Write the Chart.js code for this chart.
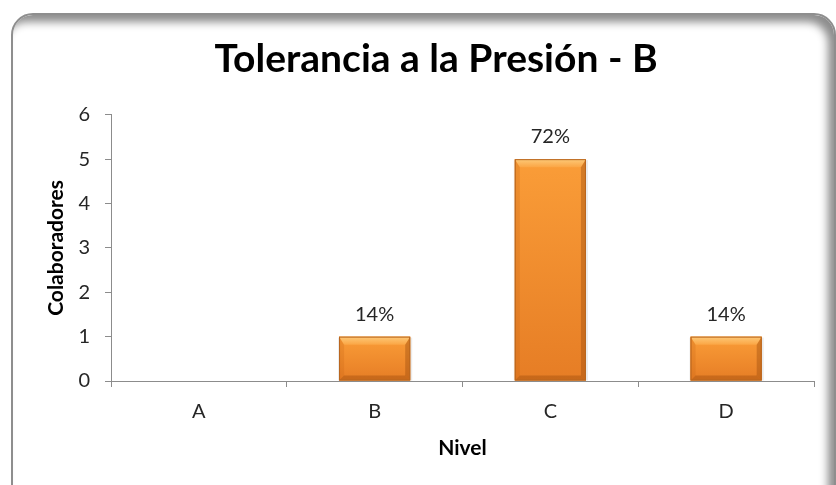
<!DOCTYPE html>
<html>
<head>
<meta charset="utf-8">
<script src="https://cdn.jsdelivr.net/npm/chart.js@4.4.1/dist/chart.umd.min.js"></script>
<style>
  html, body { margin: 0; padding: 0; background: #fff; overflow: hidden; }
  #wrap { position: relative; width: 836px; height: 485px; }
  #frame {
    position: absolute; left: 11px; top: 13px; width: 821px; height: 520px;
    border: 2px solid #8e8e8e; border-radius: 22px; background: #fff;
    box-shadow: inset -7px 8px 8px -1px rgba(0,0,0,0.45);
  }
  #chart { position: absolute; left: 0; top: 0; }
</style>
</head>
<body>
<div id="wrap">
  <div id="frame"></div>
  <canvas id="chart" width="836" height="485"></canvas>
</div>
<script>
// Employees per level and the share each level represents
const categories = ['A', 'B', 'C', 'D'];
const colaboradores = [0, 1, 5, 1];
const porcentajes = [null, '14%', '72%', '14%'];
const yTicks = [0, 1, 2, 3, 4, 5, 6];

const FONT = "Lato, 'Open Sans', 'Liberation Sans', sans-serif";
const AXIS = '#8c8c8c';
const TEXT = '#262626';

// Orange bars with a bevelled look, drawn over each bar element
const bevelBars = {
  id: 'bevelBars',
  afterDatasetsDraw(chart) {
    const ctx = chart.ctx;
    const poly = (pts, fill) => {
      ctx.beginPath();
      ctx.moveTo(pts[0][0], pts[0][1]);
      for (let k = 1; k < pts.length; k++) ctx.lineTo(pts[k][0], pts[k][1]);
      ctx.closePath();
      ctx.fillStyle = fill;
      ctx.fill();
    };
    chart.getDatasetMeta(0).data.forEach((bar) => {
      const { x, y, base, width } = bar.getProps(['x', 'y', 'base', 'width'], true);
      const l = x - width / 2, r = x + width / 2;
      const t = Math.min(y, base), b = Math.max(y, base);
      const h = b - t;
      if (h < 1) return;
      const et = Math.min(8, h / 3), es = Math.min(5, width / 5);
      ctx.save();
      // soft shadow
      ctx.fillStyle = 'rgba(0,0,0,0.08)';
      ctx.fillRect(l - 1, t + 1, width + 3, h - 1);
      // body
      const g = ctx.createLinearGradient(0, t, 0, b);
      g.addColorStop(0, '#FA9D38');
      g.addColorStop(1, '#E67D25');
      ctx.fillStyle = g;
      ctx.fillRect(l, t, width, h);
      // top facet
      const gt = ctx.createLinearGradient(0, t, 0, t + et);
      gt.addColorStop(0, '#FDC978');
      gt.addColorStop(1, '#FBA645');
      poly([[l, t], [r, t], [r - es, t + et], [l + es, t + et]], gt);
      // left facet
      poly([[l, t], [l + es, t + et], [l + es, b - es], [l, b]], 'rgba(200,100,20,0.25)');
      // right facet
      poly([[r, t], [r, b], [r - es, b - es], [r - es, t + et]], 'rgba(150,70,10,0.38)');
      // bottom facet
      poly([[l, b], [l + es, b - es], [r - es, b - es], [r, b]], 'rgba(150,70,10,0.38)');
      // outline
      ctx.strokeStyle = '#B8661F';
      ctx.lineWidth = 1;
      ctx.strokeRect(l + 0.5, t + 0.5, width - 1, h - 1);
      ctx.restore();
    });
  }
};

// Percentage labels above the bars
const percentLabels = {
  id: 'percentLabels',
  afterDatasetsDraw(chart) {
    const ctx = chart.ctx;
    ctx.save();
    ctx.font = '20px ' + FONT;
    ctx.fillStyle = TEXT;
    ctx.textAlign = 'center';
    ctx.textBaseline = 'alphabetic';
    chart.getDatasetMeta(0).data.forEach((bar, i) => {
      if (porcentajes[i] == null) return;
      ctx.fillText(porcentajes[i], bar.x, bar.y - 16);
    });
    ctx.restore();
  }
};

new Chart(document.getElementById('chart'), {
  type: 'bar',
  data: {
    labels: categories,
    datasets: [{
      data: colaboradores,
      backgroundColor: '#F7922C',
      borderWidth: 0,
      categoryPercentage: 1,
      barPercentage: 0.405
    }]
  },
  options: {
    responsive: false,
    animation: false,
    events: [],
    layout: { padding: { left: 58, right: 22, top: 0, bottom: 0 } },
    plugins: {
      legend: { display: false },
      tooltip: { enabled: false },
      title: {
        display: true,
        text: 'Tolerancia a la Presión - B',
        color: '#000',
        font: { family: FONT, size: 39, weight: 'bold' },
        padding: { top: 36, bottom: 32 }
      }
    },
    scales: {
      x: {
        grid: { display: true, drawOnChartArea: false, drawTicks: true, tickLength: 6, color: AXIS, offset: true },
        border: { display: true, color: AXIS, width: 1 },
        ticks: { color: TEXT, font: { family: FONT, size: 20 }, padding: 13 },
        title: {
          display: true, text: 'Nivel', color: '#000',
          font: { family: FONT, size: 21, weight: 'bold' },
          padding: { top: 0, bottom: 24 }
        },
        afterFit(scale) { scale.height = 104; }
      },
      y: {
        min: 0, max: 6,
        afterBuildTicks(scale) { scale.ticks = yTicks.map(v => ({ value: v })); },
        grid: { display: true, drawOnChartArea: false, drawTicks: true, tickLength: 6, color: AXIS },
        border: { display: true, color: AXIS, width: 1 },
        ticks: { color: TEXT, font: { family: FONT, size: 20 }, padding: 15 },
        title: {
          display: true, text: 'Colaboradores', color: '#000',
          font: { family: FONT, size: 21, weight: 'bold' },
          padding: { top: -14, bottom: 0 }
        },
        afterFit(scale) { scale.width = 53; }
      }
    }
  },
  plugins: [bevelBars, percentLabels]
});
</script>
</body>
</html>
